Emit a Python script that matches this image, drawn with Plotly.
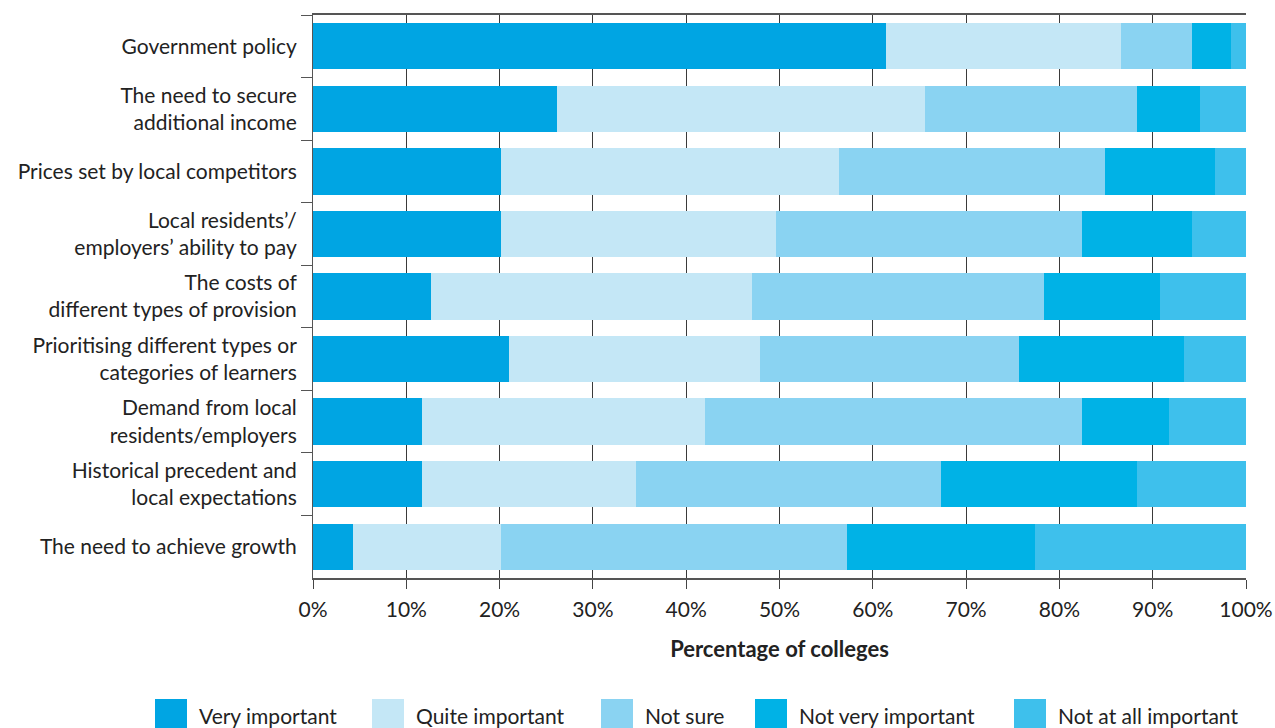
import plotly.graph_objects as go

categories = [
    "Government policy",
    "The need to secure<br>additional income",
    "Prices set by local competitors",
    "Local residents’/<br>employers’ ability to pay",
    "The costs of<br>different types of provision",
    "Prioritising different types or<br>categories of learners",
    "Demand from local<br>residents/employers",
    "Historical precedent and<br>local expectations",
    "The need to achieve growth",
]
series_names = ["Very important", "Quite important", "Not sure", "Not very important", "Not at all important"]
very_important = [61.4, 26.1, 20.2, 20.2, 12.6, 21.0, 11.7, 11.7, 4.3]
quite_important = [25.2, 39.5, 36.2, 29.4, 34.5, 26.9, 30.3, 22.9, 15.9]
not_sure = [7.6, 22.7, 28.5, 32.8, 31.2, 27.8, 40.4, 32.7, 37.0]
not_very_important = [4.2, 6.8, 11.8, 11.8, 12.5, 17.7, 9.3, 21.0, 20.2]
not_at_all_important = [1.6, 4.9, 3.3, 5.8, 9.2, 6.6, 8.3, 11.7, 22.6]
x_tick_vals = [0, 10, 20, 30, 40, 50, 60, 70, 80, 90, 100]
x_tick_text = ["0%", "10%", "20%", "30%", "40%", "50%", "60%", "70%", "80%", "90%", "100%"]

colors = ["#00A5E3", "#C4E7F6", "#8AD3F2", "#00B2E6", "#3EC0EC"]
series_values = [very_important, quite_important, not_sure, not_very_important, not_at_all_important]

FONT = "Lato"
W, H = 1275, 728
PL, PR, PT, PB = 313, 1246, 15, 578  # plot area in pixels

fig = go.Figure()
for name, vals, col in zip(series_names, series_values, colors):
    fig.add_trace(go.Bar(
        y=categories, x=vals, name=name, orientation="h",
        marker=dict(color=col, line=dict(width=0)),
        showlegend=False,
    ))

# custom legend (large square swatches)
legend_x = [155, 372, 601, 755, 1014]

def px_x(p):
    return (p - PL) / (PR - PL)

def px_y(p):
    return (PB - p) / (PB - PT)

for name, col, lx in zip(series_names, colors, legend_x):
    fig.add_shape(type="rect", xref="paper", yref="paper",
                  x0=px_x(lx), x1=px_x(lx + 32),
                  y0=px_y(732), y1=px_y(699),
                  fillcolor=col, line=dict(width=0), layer="above")
    fig.add_annotation(text=name, xref="paper", yref="paper",
                       x=px_x(lx + 42), y=px_y(715),
                       xanchor="left", yanchor="middle", showarrow=False,
                       font=dict(family=FONT, size=21, color="#222"))

fig.update_layout(
    barmode="stack",
    bargap=0.26,
    width=W, height=H,
    margin=dict(l=PL, r=W - PR, t=PT, b=H - PB, autoexpand=False),
    plot_bgcolor="white", paper_bgcolor="white",
    font=dict(family=FONT, size=21, color="#222"),
    xaxis=dict(
        range=[0, 100], tickvals=x_tick_vals, ticktext=x_tick_text,
        showgrid=True, gridcolor="#3a3a3a", gridwidth=1,
        zeroline=False, showline=True, linecolor="#555", linewidth=1.5, mirror=True,
        ticks="outside", ticklen=9, tickcolor="#444", ticklabelstandoff=3,
        tickfont=dict(family=FONT, size=21, color="#222"),
        title=dict(text="<b>Percentage of colleges</b>", font=dict(family=FONT, size=22, color="#222"), standoff=22),
    ),
    yaxis=dict(
        autorange="reversed", categoryorder="array", categoryarray=categories,
        showline=True, linecolor="#555", linewidth=1,
        ticks="outside", ticklen=11, tickcolor="#555", tickson="boundaries",
        ticklabelstandoff=11,
        tickfont=dict(family=FONT, size=21, color="#222"),
        showgrid=False,
    ),
)
fig.write_html("out.html", config={"displayModeBar": False},
               post_script="document.body.style.margin='0px';document.body.style.overflow='hidden';")
